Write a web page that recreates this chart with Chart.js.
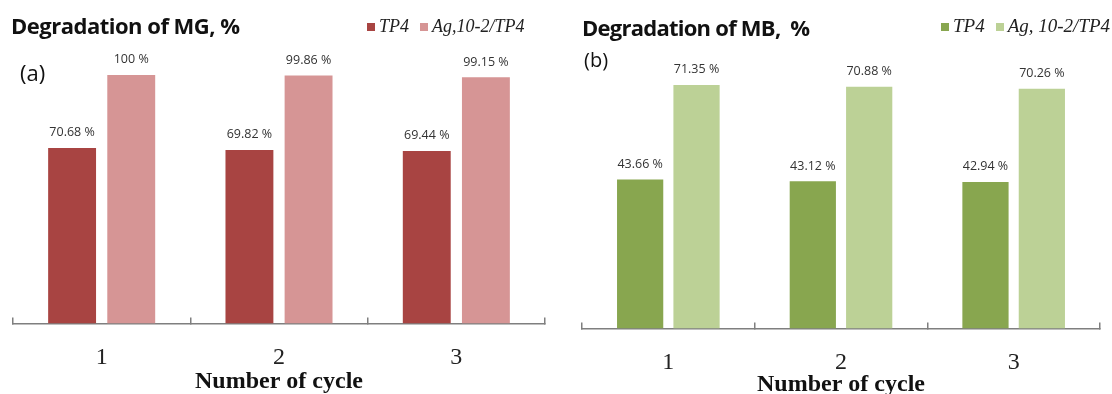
<!DOCTYPE html>
<html>
<head>
<meta charset="utf-8">
<script src="https://cdn.jsdelivr.net/npm/chart.js@4"></script>
<style>
  html, body { margin: 0; padding: 0; background: #fff; }
  body { width: 1112px; height: 394px; position: relative; overflow: hidden; }
  .panel { position: absolute; top: 0; height: 394px; width: 556px; }
  .panel canvas { position: absolute; left: 0; top: 0; }
  .title { position: absolute; font-family: "Open Sans", "Noto Sans", sans-serif; font-weight: bold; color: #111; white-space: pre; letter-spacing: -0.5px; }
  .tag { position: absolute; font-family: "Open Sans", "Noto Sans", sans-serif; color: #111; }
  .legend { position: absolute; font-family: "Liberation Serif", serif; font-style: italic; color: #222; white-space: pre; }
  .legend .sw { display: inline-block; width: 8px; height: 8px; margin-right: 4px; vertical-align: 1px; }
  .legend .gap { display: inline-block; width: 11px; }
</style>
</head>
<body>
<div class="panel" id="panelA" style="left:0">
  <canvas id="chartA" width="556" height="394"></canvas>
  <div class="title" style="left:11px; top:10px; font-size:22px;">Degradation of MG, %</div>
  <div class="tag" style="left:20px; top:57px; font-size:22px;">(a)</div>
  <div class="legend" id="legendA" style="left:367px; top:16px; font-size:18px;"></div>
</div>
<div class="panel" id="panelB" style="left:556px">
  <canvas id="chartB" width="556" height="394"></canvas>
  <div class="title" style="left:26px; top:12px; font-size:22px; letter-spacing:-0.75px;">Degradation of MB,  %</div>
  <div class="tag" style="left:28px; top:46px; font-size:20px;">(b)</div>
  <div class="legend" id="legendB" style="left:385px; top:15px; font-size:19px;"></div>
</div>
<script>
const cycles = ["1", "2", "3"];

const mgSeriesNames = ["TP4", "Ag,10-2/TP4"];
const mgTP4 = [70.68, 69.82, 69.44];
const mgAgTP4 = [100, 99.86, 99.15];

const mbSeriesNames = ["TP4", "Ag, 10-2/TP4"];
const mbTP4 = [43.66, 43.12, 42.94];
const mbAgTP4 = [71.35, 70.88, 70.26];

const redColors = ["#a84442", "#d69595"];
const greenColors = ["#88a64f", "#bcd196"];

const valueLabels = {
  id: "valueLabels",
  afterDatasetsDraw(chart) {
    const ctx = chart.ctx;
    ctx.save();
    ctx.font = "12.5px 'Open Sans', 'Noto Sans', sans-serif";
    ctx.fillStyle = "#333";
    ctx.textAlign = "center";
    ctx.textBaseline = "bottom";
    chart.data.datasets.forEach((ds, i) => {
      chart.getDatasetMeta(i).data.forEach((bar, j) => {
        ctx.fillText(ds.data[j] + " %", bar.x, bar.y - 9);
      });
    });
    ctx.restore();
  }
};

function renderLegend(id, names, colors) {
  const el = document.getElementById(id);
  el.innerHTML = names.map((n, i) =>
    `<span class="sw" style="background:${colors[i]}"></span>${n}`
  ).join('<span class="gap"></span>');
}

function makeChart(canvasId, a, b, names, colors, cfg) {
  return new Chart(document.getElementById(canvasId), {
    type: "bar",
    data: {
      labels: cycles,
      datasets: [
        { label: names[0], data: a, backgroundColor: colors[0] },
        { label: names[1], data: b, backgroundColor: colors[1] }
      ]
    },
    options: {
      responsive: false,
      animation: false,
      categoryPercentage: cfg.catPct,
      barPercentage: cfg.barPct,
      layout: { padding: cfg.padding },
      plugins: {
        legend: { display: false },
        title: { display: false },
        tooltip: { enabled: false }
      },
      scales: {
        y: { display: false, min: 0, max: cfg.yMax },
        x: {
          border: { color: "#7f7f7f", width: 1.5 },
          grid: { drawOnChartArea: false, tickLength: -6, color: "#7f7f7f", lineWidth: 1.5 },
          ticks: {
            color: "#222",
            padding: 26,
            font: { family: "'Liberation Serif', serif", size: 24 }
          },
          title: {
            display: true,
            text: "Number of cycle",
            color: "#111",
            padding: { top: cfg.titleTop, bottom: 0 },
            font: { family: "'Liberation Serif', serif", size: 24, weight: "bold" }
          }
        }
      }
    },
    plugins: [valueLabels]
  });
}

renderLegend("legendA", mgSeriesNames, redColors);
renderLegend("legendB", mbSeriesNames, greenColors);

makeChart("chartA", mgTP4, mgAgTP4, mgSeriesNames, redColors, {
  yMax: 108.5, catPct: 0.667, barPct: 0.81, titleTop: -31,
  padding: { left: 13, right: 11, top: 54, bottom: -2 }
});
makeChart("chartB", mbTP4, mbAgTP4, mbSeriesNames, greenColors, {
  yMax: 79, catPct: 0.653, barPct: 0.82, titleTop: -33,
  padding: { left: 26, right: 12, top: 59, bottom: -5 }
});
</script>
</body>
</html>
